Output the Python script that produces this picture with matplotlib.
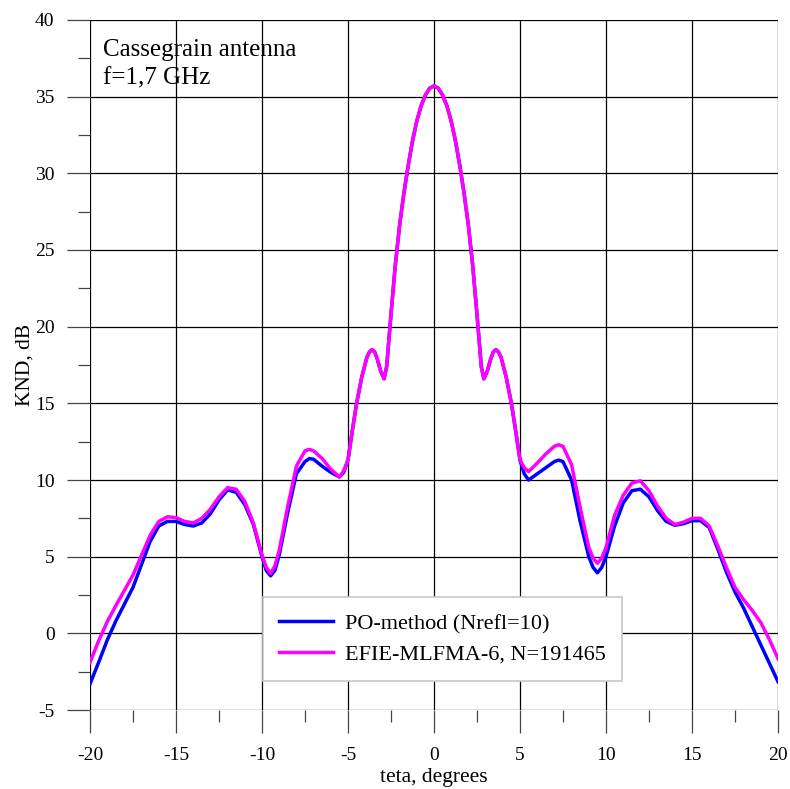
import matplotlib.pyplot as plt
from matplotlib.ticker import MultipleLocator

# angle grid (degrees), shared by both series
teta = [-20, -19.5, -19, -18.5, -18, -17.5, -17, -16.5, -16, -15.5, -15, -14.5,
        -14, -13.5, -13, -12.5, -12, -11.5, -11, -10.5, -10, -9.75, -9.5, -9.25,
        -9, -8.5, -8, -7.5, -7.25, -7, -6.5, -6, -5.5, -5.25, -5, -4.75, -4.5,
        -4.2, -3.9, -3.75, -3.6, -3.45, -3.3, -3.1, -2.9, -2.75, -2.5, -2.25, -2, -1.75, -1.5,
        -1.25, -1, -0.75, -0.5, -0.25, 0,
        0.25, 0.5, 0.75, 1, 1.25, 1.5, 1.75, 2, 2.25, 2.5, 2.75, 2.9, 3.1, 3.3, 3.45,
        3.6, 3.75, 3.9, 4.2, 4.5, 4.75, 5, 5.25, 5.5, 6, 6.5, 7, 7.25, 7.5, 8, 8.5, 9,
        9.25, 9.5, 9.75, 10, 10.5, 11, 11.5, 12, 12.5, 13, 13.5, 14, 14.5, 15,
        15.5, 16, 16.5, 17, 17.5, 18, 18.5, 19, 19.5, 20]

knd_po = [-3.3, -1.9, -0.45, 0.8, 1.9, 3.0, 4.5, 6.0, 7.0, 7.3, 7.3, 7.1,
          7.0, 7.2, 7.8, 8.7, 9.35, 9.2, 8.4, 7.1, 5.0, 4.1, 3.75, 4.1,
          5.1, 7.9, 10.4, 11.2, 11.4, 11.35, 10.9, 10.5, 10.2, 10.5, 11.3, 13.2, 15.0,
          16.7, 18.0, 18.35, 18.5, 18.35, 17.9, 17.1, 16.6, 17.4, 20.8, 24.0, 26.6, 28.7, 30.5,
          32.1, 33.4, 34.4, 35.1, 35.55, 35.7,
          35.55, 35.1, 34.4, 33.4, 32.1, 30.5, 28.7, 26.6, 24.0, 20.8, 17.4, 16.6, 17.1, 17.9, 18.35,
          18.5, 18.35, 18.0, 16.7, 15.0, 13.2, 11.3, 10.4, 10.0, 10.4, 10.8, 11.2, 11.3, 11.2, 10.0, 7.3, 5.0,
          4.3, 3.95, 4.3, 5.0, 7.0, 8.5, 9.3, 9.4, 8.9, 8.0, 7.3, 7.05, 7.15, 7.35,
          7.35, 6.9, 5.5, 4.0, 2.7, 1.65, 0.45, -0.75, -1.95, -3.15]

knd_efie = [-1.9, -0.5, 0.75, 1.8, 2.8, 3.8, 5.1, 6.4, 7.3, 7.6, 7.55, 7.3,
            7.2, 7.5, 8.1, 8.9, 9.5, 9.4, 8.6, 7.2, 5.1, 4.3, 3.9, 4.4,
            5.4, 8.3, 10.9, 11.9, 12.0, 11.9, 11.4, 10.7, 10.2, 10.6, 11.3, 13.2, 15.0,
            16.7, 18.0, 18.35, 18.5, 18.35, 17.9, 17.1, 16.6, 17.4, 20.8, 24.0, 26.6, 28.7, 30.5,
            32.1, 33.4, 34.4, 35.1, 35.55, 35.7,
            35.55, 35.1, 34.4, 33.4, 32.1, 30.5, 28.7, 26.6, 24.0, 20.8, 17.4, 16.6, 17.1, 17.9, 18.35,
            18.5, 18.35, 18.0, 16.7, 15.0, 13.2, 11.3, 10.8, 10.55, 11.1, 11.7, 12.2, 12.3, 12.2, 11.0, 8.2, 5.6,
            4.9, 4.57, 4.9, 5.6, 7.7, 9.0, 9.8, 9.95, 9.3, 8.3, 7.5, 7.1, 7.25, 7.5,
            7.5, 7.0, 5.7, 4.3, 3.0, 2.2, 1.5, 0.7, -0.4, -1.65]

plt.rcParams["font.family"] = ["Liberation Serif", "DejaVu Serif"]
plt.rcParams["axes.unicode_minus"] = False

fig = plt.figure(figsize=(7.9, 7.89), dpi=100)
ax = fig.add_axes([0.1139, 0.1001, 0.8709, 0.8746])

ax.plot(teta, knd_po, color="#0000ff", lw=2.5, label="PO-method (Nrefl=10)", zorder=3)
ax.plot(teta, knd_efie, color="#ff00ff", lw=2.5, label="EFIE-MLFMA-6, N=191465", zorder=4)

ax.set_xlim(-20, 20)
ax.set_ylim(-5, 40)
ax.xaxis.set_major_locator(MultipleLocator(5))
ax.xaxis.set_minor_locator(MultipleLocator(2.5))
ax.yaxis.set_major_locator(MultipleLocator(5))
ax.yaxis.set_minor_locator(MultipleLocator(2.5))

for s in ax.spines.values():
    s.set_visible(False)
ax.grid(True, which="major", color="black", lw=0.9, zorder=1)
ax.set_axisbelow(True)
ax.tick_params(which="major", direction="out", length=16.5, width=0.9,
               labelsize=14, color="#444444")
ax.tick_params(axis="x", which="major", pad=10)
ax.tick_params(axis="y", which="major", pad=9)
ax.tick_params(which="minor", direction="out", length=8.5, width=0.9, color="#444444")

ax.set_xlabel("teta, degrees", fontsize=15.5, labelpad=3)
ax.set_ylabel("KND, dB", fontsize=15.5, labelpad=0)

ax.text(0.019, 0.973, "Cassegrain antenna\nf=1,7 GHz", transform=ax.transAxes,
        fontsize=18, va="top", ha="left", linespacing=1.4)

leg = ax.legend(loc="upper left", bbox_to_anchor=(0.251, 0.164), fontsize=16,
                fancybox=False, framealpha=1, edgecolor="#c8c8c8",
                handlelength=2.4, handletextpad=0.55, borderpad=0.75,
                labelspacing=0.45, borderaxespad=0)
leg.get_frame().set_linewidth(1.2)
leg.set_zorder(5)

fig.savefig("out.png", dpi=100)
